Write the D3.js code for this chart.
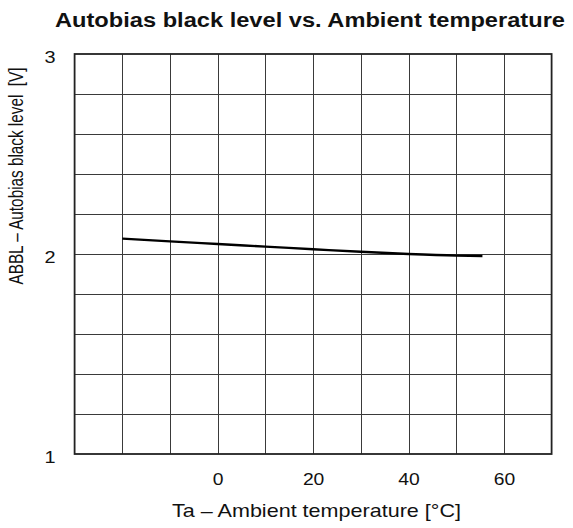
<!DOCTYPE html>
<html>
<head>
<meta charset="utf-8">
<script src="https://cdn.jsdelivr.net/npm/d3@7"></script>
<style>
  html, body { margin: 0; padding: 0; background: #fff; }
  svg { display: block; font-family: "Liberation Sans", Arial, sans-serif; }
</style>
</head>
<body>
<svg id="chart" width="573" height="528"></svg>
<script>
// ---- data ----
const temperature = [-20, -10, 0, 10, 20, 30, 40, 50, 55.5];
const blackLevel  = [2.077, 2.063, 2.050, 2.037, 2.024, 2.011, 2.000, 1.992, 1.990];
const xTickValues = [0, 20, 40, 60];
const yTickValues = [1, 2, 3];
const xDomain = [-30, 70];
const yDomain = [1, 3];
const titleText = "Autobias black level vs. Ambient temperature";
const xLabelText = "Ta \u2013 Ambient temperature [\u00B0C]";
const yLabelText = "ABBL \u2013 Autobias black level\u00A0\u00A0[V]";

// ---- layout ----
const svg = d3.select("#chart");
const pL = 74.6, pR = 551.6, pT = 54, pB = 454;
const FONT = "Liberation Sans, Arial, sans-serif";
const SX = 1.17; // horizontal glyph stretch seen in the reference

const x = d3.scaleLinear().domain(xDomain).range([pL, pR]);
const y = d3.scaleLinear().domain(yDomain).range([pB, pT]);

// grid
const xGrid = d3.range(xDomain[0] + 10, xDomain[1], 10);
const yGrid = d3.range(1.2, 2.9, 0.2);

svg.append("g").selectAll("line").data(xGrid).join("line")
  .attr("x1", d => Math.round(x(d)) + 0.5).attr("x2", d => Math.round(x(d)) + 0.5)
  .attr("y1", pT).attr("y2", pB)
  .attr("stroke", "#3a3a3a").attr("stroke-width", 1);

svg.append("g").selectAll("line").data(yGrid).join("line")
  .attr("x1", pL).attr("x2", pR)
  .attr("y1", d => Math.round(y(d)) + 0.5).attr("y2", d => Math.round(y(d)) + 0.5)
  .attr("stroke", "#3a3a3a").attr("stroke-width", 1);

// frame
svg.append("rect")
  .attr("x", pL).attr("y", pT)
  .attr("width", pR - pL).attr("height", pB - pT)
  .attr("fill", "none").attr("stroke", "#222").attr("stroke-width", 1.8);

// axes (labels only, via d3 axis)
const xAxis = d3.axisBottom(x).tickValues(xTickValues).tickSize(0).tickPadding(0)
  .tickFormat(d3.format("d"));
svg.append("g").attr("transform", `translate(0,485)`).call(xAxis)
  .attr("font-size", null).attr("font-family", null)
  .call(g => g.select(".domain").remove())
  .call(g => g.selectAll("text").attr("font-size", 16.5).attr("fill", "#111")
    .attr("font-family", FONT).attr("y", 0).attr("dy", 0)
    .attr("transform", `scale(${SX},1)`));

const yAxis = d3.axisLeft(y).tickValues(yTickValues).tickSize(0).tickPadding(0)
  .tickFormat(d3.format("d"));
svg.append("g").attr("transform", `translate(50,0)`).call(yAxis)
  .attr("font-size", null).attr("font-family", null)
  .call(g => g.select(".domain").remove())
  .call(g => g.selectAll("text").attr("font-size", 17).attr("fill", "#111")
    .attr("font-family", FONT).attr("text-anchor", "middle")
    .attr("x", 0).attr("y", 8).attr("dy", 0)
    .attr("transform", `scale(${SX},1)`));

// line
const line = d3.line()
  .x((d, i) => x(temperature[i]))
  .y(d => y(d))
  .curve(d3.curveMonotoneX);
svg.append("path").datum(blackLevel)
  .attr("d", line)
  .attr("fill", "none").attr("stroke", "#000").attr("stroke-width", 2.4);

// title
svg.append("text")
  .attr("x", 310).attr("y", 27)
  .attr("text-anchor", "middle")
  .attr("font-family", FONT)
  .attr("font-size", 19.5).attr("font-weight", "bold").attr("fill", "#111")
  .attr("textLength", 510).attr("lengthAdjust", "spacingAndGlyphs")
  .text(titleText);

// x label
svg.append("text")
  .attr("x", 316.5).attr("y", 517)
  .attr("text-anchor", "middle")
  .attr("font-family", FONT)
  .attr("font-size", 18.5).attr("fill", "#111")
  .attr("textLength", 289).attr("lengthAdjust", "spacingAndGlyphs")
  .text(xLabelText);

// y label
svg.append("text")
  .attr("transform", `translate(23,176) scale(1.3,1) rotate(-90)`)
  .attr("text-anchor", "middle")
  .attr("font-family", FONT)
  .attr("font-size", 15.3).attr("fill", "#111")
  .text(yLabelText);
</script>
</body>
</html>
